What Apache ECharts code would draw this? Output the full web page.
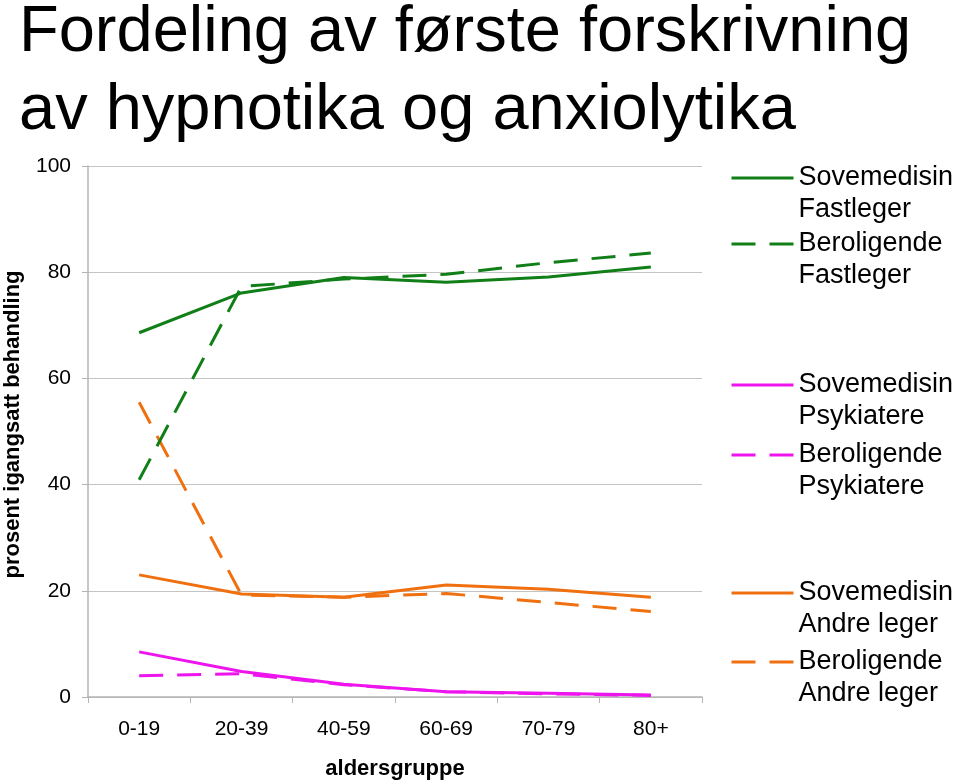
<!DOCTYPE html>
<html>
<head>
<meta charset="utf-8">
<script src="https://cdn.jsdelivr.net/npm/echarts@6/dist/echarts.min.js"></script>
<style>
html,body{margin:0;padding:0;background:#fff;}
#main{width:960px;height:784px;}
</style>
</head>
<body>
<div id="main"></div>
<script>
const titleText = 'Fordeling av første forskrivning\nav hypnotika og anxiolytika';
const categories = ['0-19', '20-39', '40-59', '60-69', '70-79', '80+'];
const yTicks = [0, 20, 40, 60, 80, 100];
const sovemedisinFastleger = [68.6, 76.1, 79.0, 78.1, 79.1, 81.0];
const beroligendeFastleger = [40.9, 77.3, 78.7, 79.6, 81.8, 83.6];
const sovemedisinPsykiatere = [8.5, 4.8, 2.4, 1.0, 0.7, 0.4];
const beroligendePsykiatere = [4.0, 4.4, 2.3, 1.0, 0.6, 0.3];
const sovemedisinAndre = [23.0, 19.4, 18.8, 21.1, 20.3, 18.8];
const beroligendeAndre = [55.5, 19.2, 18.8, 19.5, 17.8, 16.1];
const seriesNames = [
  'Sovemedisin\nFastleger', 'Beroligende\nFastleger',
  'Sovemedisin\nPsykiatere', 'Beroligende\nPsykiatere',
  'Sovemedisin\nAndre leger', 'Beroligende\nAndre leger'
];
const seriesData = [sovemedisinFastleger, beroligendeFastleger, sovemedisinPsykiatere,
  beroligendePsykiatere, sovemedisinAndre, beroligendeAndre];

const GREEN = '#117f17', MAGENTA = '#ee14ee', ORANGE = '#f0700f';
const colors = [GREEN, GREEN, MAGENTA, MAGENTA, ORANGE, ORANGE];
const dashed = [false, true, false, true, false, true];
const DASH = [24, 14];
const legendCenters = [178, 244, 385, 455, 593, 662];
const FONT = '"Liberation Sans", Arial, sans-serif';
const LH = 32;

const chart = echarts.init(document.getElementById('main'), null, {renderer: 'canvas'});

const series = seriesNames.map((name, i) => ({
  name: name,
  type: 'line',
  data: seriesData[i],
  symbol: 'none',
  showSymbol: false,
  smooth: false,
  z: 10 - i,
  lineStyle: {color: colors[i], width: 3, type: dashed[i] ? DASH : 'solid'},
  itemStyle: {color: colors[i]},
  emphasis: {disabled: true}
}));

const legends = seriesNames.map((name, i) => ({
  data: [name],
  orient: 'vertical',
  left: 730,
  top: legendCenters[i] - (3 * LH) / 2,
  padding: 0,
  itemWidth: 62,
  itemHeight: 14,
  selectedMode: false,
  formatter: (n) => '\u00a0\n' + n,
  itemStyle: {opacity: 0, borderWidth: 0},
  lineStyle: {color: colors[i], width: 3, type: dashed[i] ? DASH : 'solid', opacity: 1},
  textStyle: {fontSize: 27, lineHeight: LH, color: '#000', fontFamily: FONT}
}));

chart.setOption({
  animation: false,
  backgroundColor: '#fff',
  title: {
    text: titleText,
    left: 19,
    top: -6,
    padding: 0,
    textStyle: {fontSize: 65, lineHeight: 78, fontWeight: 'normal', color: '#000', fontFamily: FONT}
  },
  legend: legends,
  grid: {left: 88, right: 258, top: 166, bottom: 87, containLabel: false, outerBoundsMode: 'none'},
  xAxis: {
    type: 'category',
    data: categories,
    boundaryGap: true,
    name: 'aldersgruppe',
    nameLocation: 'middle',
    nameGap: 61,
    nameTextStyle: {fontSize: 22, fontWeight: 'bold', color: '#000', fontFamily: FONT},
    axisLine: {lineStyle: {color: '#b4b4b4', width: 1.5}},
    axisTick: {show: true, inside: false, length: 6, alignWithLabel: false, lineStyle: {color: '#b4b4b4'}},
    axisLabel: {fontSize: 21, color: '#000', margin: 22, fontFamily: FONT},
    splitLine: {show: false}
  },
  yAxis: {
    type: 'value',
    min: yTicks[0],
    max: yTicks[yTicks.length - 1],
    interval: yTicks[1] - yTicks[0],
    name: 'prosent igangsatt behandling',
    nameLocation: 'middle',
    nameGap: 64,
    nameTextStyle: {fontSize: 22, fontWeight: 'bold', color: '#000', fontFamily: FONT, padding: [0, 0, 0, 14]},
    axisLine: {show: true, lineStyle: {color: '#b4b4b4', width: 1.5}},
    axisTick: {show: true, inside: false, length: 6, lineStyle: {color: '#b4b4b4'}},
    axisLabel: {fontSize: 21, color: '#000', margin: 17, fontFamily: FONT},
    splitLine: {show: true, lineStyle: {color: '#c4c4c4', width: 1}}
  },
  series: series
});
</script>
</body>
</html>
